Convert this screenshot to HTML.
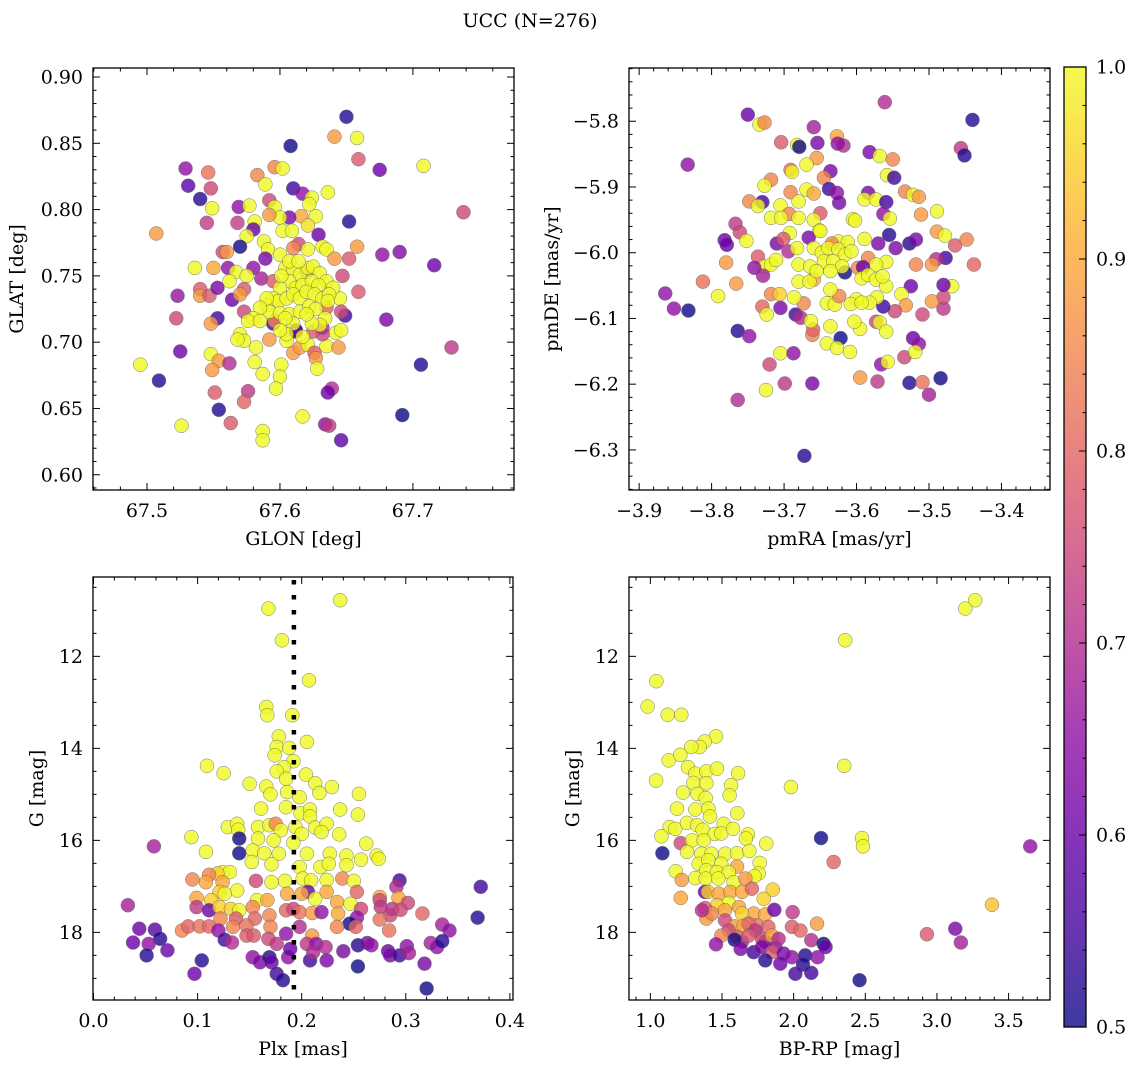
<!DOCTYPE html>
<html><head><meta charset="utf-8">
<style>
html,body{margin:0;padding:0;background:#fff;}
svg{display:block;font-family:"DejaVu Serif","Liberation Serif",serif;}
</style></head>
<body>
<svg id="fig" width="1136" height="1067" viewBox="0 0 1136 1067" xmlns="http://www.w3.org/2000/svg">
<defs>
<linearGradient id="plasmaGrad" x1="0" y1="1" x2="0" y2="0">
<stop offset="0" stop-color="#0d0887"/><stop offset="0.1" stop-color="#41049d"/><stop offset="0.2" stop-color="#6a00a8"/><stop offset="0.3" stop-color="#8f0da4"/><stop offset="0.4" stop-color="#b12a90"/><stop offset="0.5" stop-color="#cc4778"/><stop offset="0.6" stop-color="#e16462"/><stop offset="0.7" stop-color="#f2844b"/><stop offset="0.8" stop-color="#fca636"/><stop offset="0.9" stop-color="#fcce25"/><stop offset="1" stop-color="#f0f921"/>
</linearGradient>
</defs>
<text x="530" y="27" font-size="19" text-anchor="middle">UCC (N=276)</text>
</svg>
<script>
// ---- data: [x, y, membership probability] ----
const glonGlat = [
[67.650,0.870,.52],[67.641,0.855,.88],[67.658,0.854,1],[67.608,0.848,.5],[67.659,0.838,.78],[67.675,0.830,.6],[67.708,0.833,1],[67.738,0.798,.75],
[67.529,0.831,.65],[67.546,0.828,.82],[67.531,0.818,.58],[67.548,0.816,.75],[67.540,0.808,.52],[67.549,0.801,1],[67.545,0.790,.73],[67.507,0.782,.88],
[67.569,0.802,.65],[67.568,0.790,.73],[67.596,0.832,.85],[67.602,0.831,1],[67.583,0.826,.85],[67.589,0.819,1],[67.610,0.816,.55],[67.617,0.812,.65],
[67.624,0.809,1],[67.636,0.813,1],[67.592,0.807,.75],[67.577,0.803,1],[67.596,0.802,1],[67.622,0.804,1],[67.616,0.795,.9],[67.627,0.795,1],
[67.607,0.794,.62],[67.600,0.794,1],[67.592,0.796,.88],[67.581,0.791,1],[67.621,0.788,.97],[67.602,0.784,1],[67.609,0.784,1],[67.580,0.785,.6],
[67.575,0.780,1],[67.629,0.781,.6],[67.652,0.791,.52],[67.658,0.772,.88],[67.570,0.772,.5],[67.557,0.768,.75],[67.560,0.768,.88],[67.588,0.776,1],
[67.591,0.770,1],[67.600,0.766,1],[67.614,0.774,.75],[67.621,0.770,1],[67.632,0.772,1],[67.635,0.770,1],[67.641,0.763,.88],[67.652,0.763,.78],
[67.677,0.766,.65],[67.690,0.768,.63],[67.716,0.758,.6],[67.589,0.763,.62],[67.580,0.756,.65],[67.561,0.756,.65],[67.550,0.756,.9],[67.536,0.756,1],
[67.567,0.753,1],[67.575,0.750,1],[67.562,0.746,1],[67.586,0.748,.68],[67.595,0.746,.78],[67.523,0.735,.66],[67.540,0.740,.78],[67.540,0.735,.88],
[67.547,0.735,.78],[67.553,0.741,.62],[67.564,0.732,.6],[67.573,0.740,.78],[67.570,0.736,.88],[67.647,0.750,.75],[67.659,0.738,.78],[67.645,0.733,1],
[67.649,0.720,.55],[67.646,0.723,.75],[67.680,0.717,.62],[67.522,0.718,.75],[67.553,0.718,.55],[67.548,0.714,.88],[67.573,0.723,.75],[67.595,0.714,.55],
[67.612,0.709,.5],[67.570,0.706,1],[67.573,0.701,1],[67.568,0.702,1],[67.582,0.696,1],[67.592,0.702,.88],[67.605,0.701,1],[67.610,0.692,.88],
[67.615,0.696,.88],[67.621,0.698,1],[67.626,0.692,.78],[67.627,0.688,.88],[67.628,0.680,1],[67.635,0.697,1],[67.644,0.696,.88],[67.642,0.707,1],
[67.646,0.709,1],[67.632,0.706,.75],[67.729,0.696,.72],[67.706,0.683,.52],[67.525,0.693,.6],[67.495,0.683,1],[67.509,0.671,.52],[67.548,0.691,1],
[67.554,0.686,.88],[67.549,0.679,.88],[67.562,0.684,.7],[67.581,0.685,1],[67.587,0.676,1],[67.601,0.683,1],[67.600,0.674,1],[67.597,0.665,1],
[67.576,0.663,.72],[67.573,0.655,.8],[67.551,0.662,.78],[67.639,0.665,.7],[67.636,0.662,.6],[67.554,0.649,.52],[67.563,0.639,.78],[67.617,0.644,1],
[67.692,0.645,.5],[67.634,0.638,.65],[67.637,0.637,.72],[67.526,0.637,1],[67.587,0.633,1],[67.587,0.626,1],[67.646,0.626,.58],
[67.610,0.771,.85],[67.620,0.753,.85],[67.635,0.726,.8],[67.625,0.708,.78],[67.632,0.711,.7],[67.596,0.716,.85],[67.612,0.708,.6],
[67.604,0.756,1],[67.610,0.755,1],[67.615,0.751,1],[67.621,0.756,1],[67.625,0.757,1],[67.630,0.752,1],[67.635,0.746,1],[67.640,0.741,1],
[67.607,0.746,1],[67.612,0.741,1],[67.617,0.743,1],[67.624,0.746,1],[67.629,0.743,1],[67.600,0.741,1],[67.595,0.733,1],[67.590,0.728,1],
[67.599,0.731,1],[67.605,0.733,1],[67.610,0.736,1],[67.615,0.733,1],[67.620,0.738,1],[67.626,0.736,1],[67.632,0.733,1],[67.637,0.736,1],
[67.636,0.731,1],[67.592,0.723,1],[67.600,0.722,1],[67.607,0.721,1],[67.615,0.723,1],[67.622,0.727,1],[67.627,0.725,1],[67.634,0.718,1],
[67.630,0.713,1],[67.624,0.714,1],[67.610,0.714,1],[67.604,0.718,1],[67.590,0.733,1],[67.585,0.726,1],[67.620,0.721,1],[67.607,0.761,1],
[67.614,0.761,1],[67.601,0.750,1],[67.580,0.718,1],[67.576,0.716,1],[67.585,0.716,1],[67.617,0.704,1],[67.605,0.706,1],[67.600,0.709,1]
];
const pmraPmde = [
[-3.561,-5.771,.7],[-3.750,-5.790,.6],[-3.440,-5.798,.52],[-3.734,-5.805,1],[-3.727,-5.802,.85],[-3.659,-5.809,.68],[-3.833,-5.866,.65],[-3.704,-5.832,.78],
[-3.682,-5.836,1],[-3.679,-5.839,.5],[-3.654,-5.833,.62],[-3.627,-5.823,.9],[-3.618,-5.837,.7],[-3.626,-5.834,.65],[-3.582,-5.847,.62],[-3.568,-5.853,1],
[-3.550,-5.858,.85],[-3.456,-5.841,.72],[-3.451,-5.852,.52],[-3.655,-5.856,.88],[-3.669,-5.866,1],[-3.691,-5.874,.82],[-3.689,-5.877,1],[-3.636,-5.876,.62],
[-3.645,-5.886,.85],[-3.718,-5.889,.85],[-3.727,-5.898,1],[-3.638,-5.903,.55],[-3.627,-5.909,.65],[-3.624,-5.924,.62],[-3.558,-5.882,1],[-3.548,-5.886,.55],
[-3.691,-5.908,.85],[-3.669,-5.904,1],[-3.659,-5.910,.9],[-3.748,-5.922,.85],[-3.730,-5.923,.55],[-3.736,-5.929,1],[-3.680,-5.922,1],[-3.705,-5.928,1],
[-3.693,-5.941,.85],[-3.680,-5.947,1],[-3.650,-5.940,.78],[-3.659,-5.950,1],[-3.718,-5.947,1],[-3.704,-5.947,1],[-3.584,-5.909,.62],[-3.589,-5.919,1],
[-3.573,-5.919,1],[-3.559,-5.923,.55],[-3.563,-5.941,.65],[-3.554,-5.948,1],[-3.605,-5.949,1],[-3.602,-5.951,1],[-3.533,-5.907,.85],[-3.522,-5.912,1],
[-3.514,-5.915,.88],[-3.511,-5.942,.88],[-3.489,-5.937,1],[-3.767,-5.956,.72],[-3.761,-5.969,.75],[-3.752,-5.982,1],[-3.782,-5.981,.6],[-3.779,-5.988,.6],
[-3.651,-5.966,1],[-3.692,-5.970,1],[-3.666,-5.977,.62],[-3.710,-5.986,.62],[-3.701,-5.979,.78],[-3.589,-5.979,1],[-3.555,-5.973,.52],[-3.570,-5.986,.62],
[-3.527,-5.986,.52],[-3.518,-5.980,.62],[-3.546,-5.993,.62],[-3.489,-5.968,.88],[-3.478,-5.974,1],[-3.464,-5.989,.78],[-3.448,-5.980,.85],[-3.438,-6.018,.8],
[-3.477,-6.008,.55],[-3.490,-6.010,.7],[-3.496,-6.018,.88],[-3.518,-6.018,.85],[-3.559,-6.014,1],[-3.584,-6.008,.85],[-3.598,-6.023,.85],[-3.573,-6.018,1],
[-3.625,-5.983,1],[-3.612,-5.984,1],[-3.634,-5.986,.85],[-3.694,-5.998,.7],[-3.736,-6.006,.78],[-3.727,-6.021,1],[-3.718,-6.018,1],[-3.711,-6.011,1],
[-3.741,-6.023,.65],[-3.729,-6.035,.68],[-3.780,-6.015,.88],[-3.812,-6.044,.82],[-3.864,-6.062,.65],[-3.852,-6.085,.65],[-3.832,-6.088,.5],[-3.791,-6.066,1],
[-3.766,-6.047,.88],[-3.718,-6.063,.85],[-3.706,-6.063,.95],[-3.730,-6.082,.8],[-3.724,-6.094,1],[-3.705,-6.084,.62],[-3.684,-6.094,.55],[-3.677,-6.099,.7],
[-3.673,-6.077,.85],[-3.686,-6.068,1],[-3.661,-6.125,.85],[-3.660,-6.117,.8],[-3.764,-6.119,.52],[-3.748,-6.127,.65],[-3.705,-6.153,1],[-3.687,-6.153,.65],
[-3.720,-6.170,.75],[-3.725,-6.209,1],[-3.699,-6.199,.72],[-3.661,-6.199,.62],[-3.764,-6.224,.7],[-3.672,-6.309,.52],[-3.595,-6.190,.88],[-3.571,-6.196,.72],
[-3.527,-6.198,.52],[-3.509,-6.197,.82],[-3.484,-6.191,.5],[-3.500,-6.216,.68],[-3.534,-6.159,.75],[-3.566,-6.170,.65],[-3.557,-6.166,1],[-3.522,-6.130,.6],
[-3.514,-6.139,.65],[-3.519,-6.151,1],[-3.509,-6.094,.75],[-3.480,-6.085,.72],[-3.480,-6.068,.75],[-3.496,-6.074,.88],[-3.468,-6.051,1],[-3.480,-6.049,.6],
[-3.525,-6.051,.6],[-3.538,-6.063,1],[-3.532,-6.080,.88],[-3.547,-6.089,.75],[-3.563,-6.082,.55],[-3.572,-6.068,1],[-3.582,-6.076,1],[-3.573,-6.105,.75],
[-3.568,-6.106,1],[-3.559,-6.120,1],[-3.622,-6.130,.5],[-3.636,-6.112,1],[-3.641,-6.138,1],[-3.627,-6.145,1],[-3.609,-6.151,1],[-3.595,-6.116,1],
[-3.603,-6.105,1],[-3.641,-6.077,1],[-3.630,-6.079,1],[-3.600,-6.071,1],[-3.608,-6.078,1],[-3.593,-6.076,1],[-3.624,-6.066,.85],[-3.636,-6.056,1],
[-3.663,-6.104,1],[-3.659,-6.041,.9],[-3.680,-6.044,1],[-3.665,-6.044,1],[-3.591,-6.022,.6],[-3.616,-6.030,.5],
[-3.682,-5.993,1],[-3.659,-5.993,1],[-3.648,-6.000,1],[-3.639,-5.993,1],[-3.625,-5.995,1],[-3.616,-6.003,1],[-3.607,-5.998,1],[-3.680,-6.018,1],
[-3.664,-6.021,1],[-3.645,-6.013,1],[-3.632,-6.013,1],[-3.620,-6.021,1],[-3.655,-6.028,1],[-3.636,-6.028,1],[-3.593,-6.039,1],[-3.584,-6.034,1],
[-3.573,-6.041,1],[-3.559,-6.051,1],[-3.564,-6.036,1],[-3.650,-5.967,1]
];
const plxG = [
[0.237,10.78,1],[0.168,10.96,1],[0.181,11.65,1],[0.207,12.52,1],[0.166,13.10,1],[0.167,13.28,1],[0.191,13.28,1],[0.178,13.74,1],
[0.176,13.97,1],[0.188,13.99,1],[0.205,13.86,1],[0.174,14.15,1],[0.192,14.28,1],[0.109,14.38,1],[0.125,14.54,1],[0.183,14.41,1],
[0.176,14.50,1],[0.185,14.66,1],[0.204,14.57,1],[0.150,14.77,1],[0.166,14.83,1],[0.170,15.00,1],[0.186,14.95,1],[0.198,15.06,1],
[0.213,14.76,1],[0.217,14.97,1],[0.229,14.84,1],[0.255,14.99,1],[0.161,15.31,1],[0.185,15.28,1],[0.199,15.41,1],[0.208,15.33,1],
[0.208,15.48,1],[0.237,15.33,1],[0.254,15.44,1],[0.129,15.71,1],[0.138,15.64,1],[0.139,15.77,1],[0.094,15.93,1],[0.158,15.71,1],
[0.169,15.67,1],[0.175,15.64,.85],[0.180,15.78,1],[0.194,15.71,1],[0.200,15.86,1],[0.213,15.72,1],[0.224,15.64,1],[0.219,15.82,1],
[0.236,15.87,1],[0.140,15.96,.5],[0.140,16.28,.5],[0.058,16.13,.68],[0.108,16.25,1],[0.158,15.96,1],[0.173,16.00,1],[0.192,16.05,1],
[0.153,16.22,1],[0.164,16.28,1],[0.178,16.29,1],[0.205,16.29,1],[0.227,16.29,1],[0.243,16.33,1],[0.262,16.07,1],[0.257,16.42,1],
[0.272,16.33,1],[0.274,16.40,1],[0.152,16.47,1],[0.171,16.52,1],[0.198,16.58,1],[0.218,16.58,1],[0.226,16.51,1],[0.243,16.54,1],
[0.124,16.69,1],[0.131,16.69,1],[0.119,16.72,.95],[0.111,16.75,.85],[0.095,16.85,.85],[0.108,16.91,.9],[0.124,16.91,.9],[0.156,16.88,.75],
[0.171,16.91,1],[0.184,16.88,1],[0.201,16.83,1],[0.209,16.87,1],[0.224,16.86,1],[0.239,16.83,.85],[0.250,16.88,1],[0.294,16.87,.55],
[0.372,17.01,.55],[0.291,17.01,.7],[0.138,17.09,1],[0.121,17.12,.95],[0.099,17.25,.9],[0.113,17.30,.95],[0.126,17.16,1],[0.186,17.16,.9],
[0.206,17.12,.6],[0.200,17.16,.9],[0.213,17.27,1],[0.224,17.12,.9],[0.253,17.12,.8],[0.234,17.34,.9],[0.247,17.38,1],[0.275,17.23,.9],
[0.275,17.30,.75],[0.293,17.25,.9],[0.302,17.36,.75],[0.157,17.30,1],[0.167,17.30,.9],[0.033,17.41,.68],[0.099,17.45,.72],[0.111,17.52,.6],
[0.121,17.45,.95],[0.132,17.49,.95],[0.140,17.52,1],[0.153,17.45,.85],[0.169,17.63,.85],[0.185,17.52,.8],[0.192,17.49,.75],[0.198,17.56,.82],
[0.210,17.58,.88],[0.219,17.56,.65],[0.235,17.59,.9],[0.257,17.49,.75],[0.276,17.45,.72],[0.285,17.63,.75],[0.287,17.49,.72],[0.295,17.51,.75],
[0.316,17.59,.8],[0.369,17.68,.52],[0.253,17.68,.65],[0.275,17.72,.82],[0.122,17.70,.85],[0.137,17.70,.78],[0.155,17.70,.8],[0.246,17.81,.5],
[0.085,17.96,.85],[0.091,17.87,.8],[0.102,17.87,.82],[0.111,17.87,.8],[0.120,17.96,.65],[0.134,17.88,.85],[0.147,17.85,.82],[0.170,17.88,.85],
[0.185,18.03,.65],[0.198,17.88,.7],[0.210,18.07,.88],[0.234,17.88,.85],[0.252,17.88,.8],[0.284,17.96,.82],[0.335,17.83,.68],[0.342,17.96,.65],
[0.044,17.92,.6],[0.059,17.94,.58],[0.064,18.14,.52],[0.038,18.22,.6],[0.053,18.25,.65],[0.071,18.39,.6],[0.051,18.50,.52],[0.126,18.16,.55],
[0.133,18.22,.7],[0.147,18.07,.78],[0.154,18.07,.78],[0.168,18.14,.75],[0.176,18.25,.72],[0.205,18.25,.72],[0.214,18.25,.65],[0.223,18.32,.7],
[0.240,18.41,.62],[0.254,18.28,.52],[0.263,18.23,.62],[0.267,18.28,.65],[0.283,18.41,.6],[0.285,18.50,.62],[0.294,18.50,.55],[0.301,18.30,.65],
[0.303,18.45,.68],[0.324,18.23,.68],[0.330,18.32,.65],[0.335,18.19,.52],[0.104,18.61,.52],[0.097,18.90,.6],[0.153,18.54,.65],[0.160,18.65,.62],
[0.169,18.54,.52],[0.171,18.65,.6],[0.176,18.90,.55],[0.182,19.04,.52],[0.187,18.54,.65],[0.189,18.36,.6],[0.208,18.61,.55],[0.211,18.43,.7],
[0.224,18.61,.62],[0.254,18.74,.5],[0.318,18.68,.62],[0.320,19.22,.5]
];
const bprpG = [
[3.267,10.78,1],[3.198,10.96,1],[2.360,11.65,1],[1.042,12.54,1],[0.981,13.09,1],[1.121,13.27,1],[1.216,13.27,1],[1.458,13.74,1],
[1.379,13.85,1],[1.344,13.97,1],[1.286,13.97,1],[1.128,14.26,1],[1.209,14.14,1],[1.040,14.70,1],[1.263,14.41,1],[1.314,14.55,1],
[1.391,14.50,1],[1.465,14.44,1],[1.612,14.54,1],[1.300,14.75,1],[1.391,14.76,1],[1.563,14.80,1],[1.553,15.02,1],[1.228,14.96,1],
[1.328,14.99,1],[1.386,15.08,1],[1.186,15.31,1],[1.314,15.33,1],[1.405,15.31,1],[1.416,15.48,1],[1.607,15.41,1],[1.981,14.84,1],
[2.353,14.38,1],[1.135,15.71,1],[1.174,15.75,1],[1.077,15.91,1],[1.256,15.62,1],[1.326,15.67,1],[1.365,15.77,1],[1.449,15.86,1],
[1.512,15.64,1],[1.495,15.85,1],[1.577,15.75,1],[1.681,15.87,1],[1.809,16.07,1],[1.667,15.96,1],[2.477,15.95,1],[2.484,16.13,1],
[2.191,15.95,.5],[3.651,16.13,.65],[1.084,16.28,.5],[1.212,16.06,.75],[1.291,16.00,1],[1.372,16.00,1],[1.256,16.25,1],[1.356,16.29,1],
[1.426,16.29,1],[1.523,16.29,1],[1.605,16.28,1],[1.691,16.23,1],[1.337,16.51,1],[1.405,16.43,1],[1.495,16.51,1],[1.605,16.57,.9],
[1.763,16.49,1],[2.279,16.47,.8],[1.177,16.67,1],[1.391,16.65,1],[1.465,16.69,1],[1.547,16.69,1],[1.756,16.72,1],[1.726,16.78,1],
[1.219,16.86,.88],[1.314,16.82,1],[1.386,16.83,1],[1.474,16.83,1],[1.581,16.91,1],[1.663,16.83,.88],[1.854,17.07,.95],[1.381,17.12,.6],
[1.402,17.12,.95],[1.477,17.16,.9],[1.558,17.12,.9],[1.640,17.12,.9],[1.709,17.05,.8],[1.791,17.27,.95],[1.212,17.25,.9],[1.547,17.36,1],
[1.465,17.41,.95],[1.381,17.47,.78],[1.521,17.52,.9],[1.619,17.45,.9],[1.721,17.59,.9],[1.640,17.59,.95],[1.802,17.61,.9],[1.865,17.51,.6],
[1.993,17.56,.72],[1.391,17.70,.88],[1.521,17.74,.75],[1.588,17.87,.88],[1.651,17.86,.9],[1.744,17.85,.82],[1.823,17.88,.8],[1.988,17.88,.78],
[2.047,17.96,.8],[2.163,17.81,.88],[3.384,17.40,.93],[1.430,17.59,.85],[1.686,17.81,.8],[1.547,17.96,.75],[1.640,18.20,.68],[1.733,17.96,.72],
[1.802,18.20,.6],[1.872,18.32,.65],[1.360,17.52,.7],
[1.495,18.07,.85],[1.605,18.10,.8],[1.686,18.07,.78],[1.779,18.14,.75],[1.849,18.07,.9],[1.895,18.14,.7],[1.588,18.16,.5],[1.458,18.26,.65],
[1.630,18.36,.62],[1.721,18.43,.55],[1.779,18.32,.62],[1.849,18.43,.78],[1.930,18.46,.62],[1.988,18.54,.65],[1.802,18.61,.52],[1.907,18.68,.6],
[2.081,18.50,.52],[2.065,18.70,.52],[2.012,18.90,.55],[2.123,18.88,.55],[2.123,18.17,.7],[2.167,18.54,.65],[2.209,18.25,.5],[2.223,18.32,.6],
[2.460,19.04,.5],[2.930,18.04,.78],[3.128,17.92,.62],[3.167,18.22,.68]
];
const plxMedian = [0.1925];
// ---- axis tick values ----
const glonTicks = [67.5, 67.6, 67.7];
const glatTicks = [0.60, 0.65, 0.70, 0.75, 0.80, 0.85, 0.90];
const pmraTicks = [-3.9, -3.8, -3.7, -3.6, -3.5, -3.4];
const pmdeTicks = [-6.3, -6.2, -6.1, -6.0, -5.9, -5.8];
const plxTicks = [0.0, 0.1, 0.2, 0.3, 0.4];
const gTicks = [12, 14, 16, 18];
const bprpTicks = [1.0, 1.5, 2.0, 2.5, 3.0, 3.5];
const cbarTicks = [0.5, 0.6, 0.7, 0.8, 0.9, 1.0];

const FS = 19;
const NS = "http://www.w3.org/2000/svg";
const svg = document.getElementById('fig');
function mk(tag, attrs, parent) {
  const e = document.createElementNS(NS, tag);
  for (const k in attrs) e.setAttribute(k, attrs[k]);
  (parent || svg).appendChild(e);
  return e;
}
const plasma = [[13,8,135],[65,4,157],[106,0,168],[143,13,164],[177,42,144],[204,71,120],[225,100,98],[242,132,75],[252,166,54],[252,206,37],[240,249,33]];
function cmap(p) {
  let t = (p - 0.5) / 0.5; t = Math.max(0, Math.min(1, t));
  const f = t * 10, i = Math.min(9, Math.floor(f)), r = f - i;
  const a = plasma[i], b = plasma[i + 1];
  return 'rgb(' + [0,1,2].map(k => Math.round(a[k] + (b[k] - a[k]) * r)).join(',') + ')';
}
const fmtMinus = s => s.replace('-', '\u2212');

function makeAxes(cfg) {
  const g = mk('g', {});
  
  
  const sx = v => cfg.x0 + (v - cfg.xlim[0]) / (cfg.xlim[1] - cfg.xlim[0]) * (cfg.x1 - cfg.x0);
  const sy = v => cfg.y1 - (v - cfg.ylim[0]) / (cfg.ylim[1] - cfg.ylim[0]) * (cfg.y1 - cfg.y0);
  const ticks = mk('g', {stroke: '#000', 'stroke-width': 1}, g);
  
  
  const xa = Math.min(cfg.xlim[0], cfg.xlim[1]), xb = Math.max(cfg.xlim[0], cfg.xlim[1]);
  for (let k = Math.ceil(xa / cfg.xminor - 1e-9); k * cfg.xminor <= xb + 1e-9; k++) {
    const X = sx(k * cfg.xminor);
    const major = cfg.xticks.some(t => Math.abs(t - k * cfg.xminor) < cfg.xminor / 10);
    const L = major ? 7 : 3.5;
    mk('line', {x1: X, x2: X, y1: cfg.y1, y2: cfg.y1 - L}, ticks);
    mk('line', {x1: X, x2: X, y1: cfg.y0, y2: cfg.y0 + L}, ticks);
  }
  const ya = Math.min(cfg.ylim[0], cfg.ylim[1]), yb = Math.max(cfg.ylim[0], cfg.ylim[1]);
  for (let k = Math.ceil(ya / cfg.yminor - 1e-9); k * cfg.yminor <= yb + 1e-9; k++) {
    const Y = sy(k * cfg.yminor);
    const major = cfg.yticks.some(t => Math.abs(t - k * cfg.yminor) < cfg.yminor / 10);
    const L = major ? 7 : 3.5;
    mk('line', {x1: cfg.x0, x2: cfg.x0 + L, y1: Y, y2: Y}, ticks);
    mk('line', {x1: cfg.x1, x2: cfg.x1 - L, y1: Y, y2: Y}, ticks);
  }
  cfg.xticks.forEach(t => {
    const e = mk('text', {x: sx(t), y: cfg.y1 + 27, 'font-size': FS, 'text-anchor': 'middle'}, g);
    e.textContent = fmtMinus(t.toFixed(cfg.xdec));
    
    
  });
  cfg.yticks.forEach(t => {
    const e = mk('text', {x: cfg.x0 - 10, y: sy(t) + 6.5, 'font-size': FS, 'text-anchor': 'end'}, g);
    e.textContent = fmtMinus(t.toFixed(cfg.ydec));
    
    
  });
  const xl = mk('text', {x: (cfg.x0 + cfg.x1) / 2, y: cfg.y1 + 55, 'font-size': FS, 'text-anchor': 'middle'}, g);
  xl.textContent = cfg.xlabel;
  
  
  const yl = mk('text', {x: 0, y: 0, 'font-size': FS, 'text-anchor': 'middle', transform: 'translate(' + cfg.ylx + ',' + ((cfg.y0 + cfg.y1) / 2) + ') rotate(-90)'}, g);
  yl.textContent = cfg.ylabel;
  
  
  const pts = mk('g', {}, g);
  
  
  cfg.data.forEach(d => {
    const c = mk('circle', {cx: sx(d[0]), cy: sy(d[1]), r: 7, fill: cmap(d[2]), stroke: '#555', 'stroke-width': 0.5, opacity: 0.8}, pts);
    
    
  });
  if (cfg.vline) cfg.vline.forEach(v => {
    const l = mk('line', {x1: sx(v), x2: sx(v), y1: cfg.y0, y2: cfg.y1, stroke: '#000', 'stroke-width': 4.5, 'stroke-dasharray': '4.5 10.5', 'stroke-dashoffset': '-3'}, g);
    
    
  });
  const fr = mk('rect', {x: cfg.x0, y: cfg.y0, width: cfg.x1 - cfg.x0, height: cfg.y1 - cfg.y0, fill: 'none', stroke: '#000', 'stroke-width': 1.3}, g);
  
  
}

makeAxes({name: 'glon-glat-panel', x0: 93, x1: 514, y0: 68, y1: 490, xlim: [67.4594, 67.776], ylim: [0.5885, 0.9068],
  xticks: glonTicks, yticks: glatTicks, xminor: 0.02, yminor: 0.01, xdec: 1, ydec: 2, xlabel: 'GLON [deg]', ylabel: 'GLAT [deg]', ylx: 23, data: glonGlat});
makeAxes({name: 'pm-panel', x0: 629, x1: 1050, y0: 68, y1: 490, xlim: [-3.914, -3.333], ylim: [-6.361, -5.719],
  xticks: pmraTicks, yticks: pmdeTicks, xminor: 0.02, yminor: 0.02, xdec: 1, ydec: 1, xlabel: 'pmRA [mas/yr]', ylabel: 'pmDE [mas/yr]', ylx: 558, data: pmraPmde});
makeAxes({name: 'plx-g-panel', x0: 93, x1: 513, y0: 577, y1: 1000, xlim: [-0.0005, 0.403], ylim: [19.47, 10.275],
  xticks: plxTicks, yticks: gTicks, xminor: 0.02, yminor: 0.5, xdec: 1, ydec: 0, xlabel: 'Plx [mas]', ylabel: 'G [mag]', ylx: 43, data: plxG, vline: plxMedian});
makeAxes({name: 'cmd-panel', x0: 629, x1: 1050, y0: 577, y1: 1000, xlim: [0.851, 3.789], ylim: [19.47, 10.275],
  xticks: bprpTicks, yticks: gTicks, xminor: 0.1, yminor: 0.5, xdec: 1, ydec: 0, xlabel: 'BP-RP [mag]', ylabel: 'G [mag]', ylx: 579, data: bprpG});

(function () {
  const x0 = 1064, x1 = 1086, y0 = 67, y1 = 1027, lo = 0.5, hi = 1.0;
  const g = mk('g', {});
  
  
  const sy = v => y1 - (v - lo) / (hi - lo) * (y1 - y0);
  mk('rect', {x: x0, y: y0, width: x1 - x0, height: y1 - y0, fill: 'url(#plasmaGrad)', opacity: 0.8}, g);
  for (let k = 25; k <= 50; k++) {
    const v = k * 0.02, Y = sy(v);
    const major = cbarTicks.some(t => Math.abs(t - v) < 0.002);
    mk('line', {x1: x1, x2: x1 - (major ? 7 : 3.5), y1: Y, y2: Y, stroke: '#000', 'stroke-width': 1}, g);
  }
  cbarTicks.forEach(t => {
    const e = mk('text', {x: x1 + 10, y: sy(t) + 6.5, 'font-size': FS}, g);
    e.textContent = t.toFixed(1);
    
    
  });
  mk('rect', {x: x0, y: y0, width: x1 - x0, height: y1 - y0, fill: 'none', stroke: '#000', 'stroke-width': 1.3}, g);
})();
</script>
</body></html>
